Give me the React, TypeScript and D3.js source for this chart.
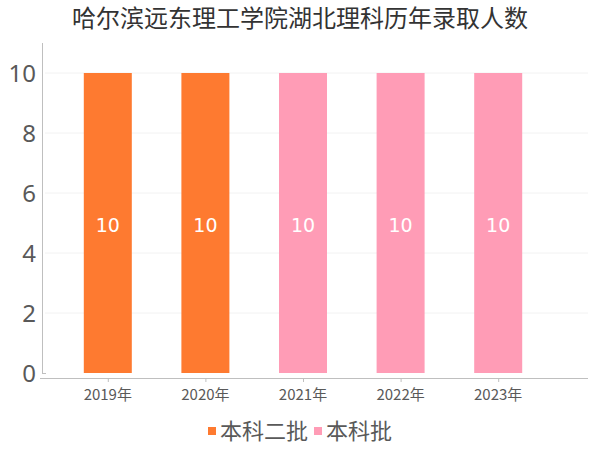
import React from "react";
import * as d3 from "d3";

const title = "哈尔滨远东理工学院湖北理科历年录取人数";
const years = ["2019年", "2020年", "2021年", "2022年", "2023年"];
const values = [10, 10, 10, 10, 10];
const batches = ["本科二批", "本科二批", "本科批", "本科批", "本科批"];
const seriesNames = ["本科二批", "本科批"];
const seriesColors = ["#FE7A30", "#FF9CB6"];
const yTicks = [0, 2, 4, 6, 8, 10];

const FONT = "'Noto Sans CJK SC', 'Noto Sans', sans-serif";
const NUMFONT = "'Noto Sans', 'Noto Sans CJK SC', sans-serif";

export default function App() {
  const W = 600, H = 450;
  const x = d3.scaleBand<string>().domain(years).range([59, 547]).paddingInner(0.5).paddingOuter(0.25);
  const y = d3.scaleLinear().domain([0, 11]).range([373, 43]);
  const color = d3.scaleOrdinal<string, string>().domain(seriesNames).range(seriesColors);
  const bw = 48;

  return (
    <svg width={W} height={H} style={{ position: "absolute", left: 0, top: 0 }} fontFamily={FONT}>
      <rect width={W} height={H} fill="#fff" />
      <text x={300} y={27} textAnchor="middle" fontSize={24} fill="#333">{title}</text>
      {yTicks.filter(t => t > 0).map(t => (
        <line key={"g" + t} x1={45} x2={588} y1={y(t)} y2={y(t)} stroke="#f2f2f2" strokeWidth={1} />
      ))}
      <line x1={42.5} x2={42.5} y1={43} y2={373} stroke="#bfbfbf" />
      <line x1={42} x2={46} y1={373.5} y2={373.5} stroke="#bfbfbf" />
      <line x1={40} x2={588} y1={378.5} y2={378.5} stroke="#bfbfbf" />
      {yTicks.map(t => (
        <text key={"t" + t} x={36} y={y(t) + 8.5} textAnchor="end" fontSize={24} fontFamily={NUMFONT} fill="#595959">{t}</text>
      ))}
      {years.map((yr, i) => {
        const cx = (x(yr) as number) + x.bandwidth() / 2;
        return (
          <g key={yr}>
            <rect x={cx - bw / 2} y={y(values[i])} width={bw} height={y(0) - y(values[i])} fill={color(batches[i])} />
            <text x={cx} y={(y(values[i]) + y(0)) / 2 + 9} textAnchor="middle" fontSize={19} fontFamily="'DejaVu Sans', sans-serif" fill="#fff">{values[i]}</text>
            <line x1={cx + 0.5} x2={cx + 0.5} y1={378} y2={382} stroke="#bfbfbf" />
            <text x={cx} y={400} textAnchor="middle" fontSize={15} fill="#595959">{yr}</text>
          </g>
        );
      })}
      {seriesNames.map((s, i) => {
        const lx = [208, 314][i];
        return (
          <g key={s}>
            <rect x={lx} y={427} width={8} height={8} fill={seriesColors[i]} />
            <text x={lx + 12} y={439} fontSize={22} fill="#595959">{s}</text>
          </g>
        );
      })}
    </svg>
  );
}
